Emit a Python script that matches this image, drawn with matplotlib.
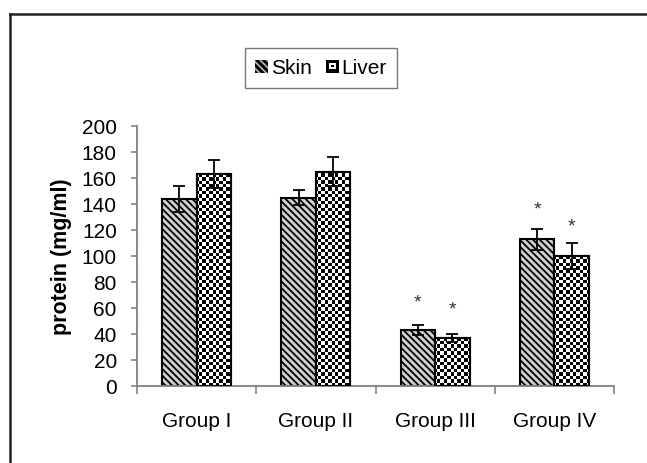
import numpy as np
import matplotlib
matplotlib.use('Agg')
import matplotlib.pyplot as plt
from matplotlib.patches import Rectangle
from matplotlib.lines import Line2D
from matplotlib.legend_handler import HandlerBase

plt.rcParams['font.family'] = ['Liberation Sans', 'DejaVu Sans']
plt.rcParams['hatch.linewidth'] = 1.3

groups = ['Group I', 'Group II', 'Group III', 'Group IV']
skin = [144, 145, 43, 113]
skin_err = [10, 6, 4, 8]
liver = [163, 165, 37, 100]
liver_err = [11, 11, 3, 10]
# asterisk heights (nan = no mark)
skin_star = [np.nan, np.nan, 65, 136]
liver_star = [np.nan, np.nan, 59, 123]
yticks = list(range(0, 201, 20))


class SkinHandler(HandlerBase):
    def create_artists(self, legend, orig, xd, yd, w, h, fs, trans):
        s = h
        r = Rectangle((-xd + (w - s) / 2, -yd), s, s, facecolor='black',
                      edgecolor='#b0b0b0', hatch='\\\\\\\\\\', lw=0, transform=trans)
        return [r]


class CheckerHandler(HandlerBase):
    def create_artists(self, legend, orig, xd, yd, w, h, fs, trans):
        s = h
        x0 = -xd + (w - s) / 2
        y0 = -yd
        arts = [Rectangle((x0, y0), s, s, facecolor='black', lw=0, transform=trans)]
        c = s / 4
        arts.append(Rectangle((x0 + c, y0 + c), 2 * c, 2 * c, facecolor='white', lw=0, transform=trans))
        arts.append(Rectangle((x0 + 1.6 * c, y0 + 1.6 * c), 0.8 * c, 0.8 * c, facecolor='black', lw=0, transform=trans))
        return arts


fig = plt.figure(figsize=(6.47, 4.64), dpi=100)
ax = fig.add_axes([137 / 647, 1 - 387 / 464, 477 / 647, 260 / 464])

x = np.arange(len(groups))
w = 0.29
ebar = dict(ecolor='black', elinewidth=1.3, capsize=4, capthick=1.3)

b1 = ax.bar(x - w / 2, skin, w, yerr=skin_err, facecolor='#d0d0d0', edgecolor='black',
            hatch='\\\\\\\\\\', lw=1.5, error_kw=ebar, zorder=2)
b2 = ax.bar(x + w / 2, liver, w, facecolor='white', edgecolor='black', lw=1.5, zorder=2)

# checkerboard fill for liver bars
cell = 3.4
nx = int(round(477 / cell))
ny = int(round(260 / cell))
checker = (np.add.outer(np.arange(ny), np.arange(nx)) % 2).astype(float)
for rect in b2:
    im = ax.imshow(checker, extent=(-0.5, 3.5, 0, 200), cmap='gray', vmin=0, vmax=1,
                   interpolation='nearest', aspect='auto', zorder=2.2)
    im.set_clip_path(rect)
ax.bar(x + w / 2, liver, w, fill=False, edgecolor='black', lw=1.5, zorder=3)
ax.errorbar(x + w / 2, liver, yerr=liver_err, fmt='none', zorder=4, **ebar)

for xi, s1, s2 in zip(x, skin_star, liver_star):
    if not np.isnan(s1):
        ax.text(xi - w / 2, s1, '*', ha='center', va='center', fontsize=14, color='#333333')
    if not np.isnan(s2):
        ax.text(xi + w / 2, s2, '*', ha='center', va='center', fontsize=14, color='#333333')

ax.set_xlim(-0.5, 3.5)
ax.set_ylim(0, 200)
ax.set_yticks(yticks)
ax.set_xticks(x)
ax.set_xticklabels(groups)
ax.set_xticks(np.arange(-0.5, 3.6, 1), minor=True)
ax.tick_params(axis='x', which='major', length=0, pad=18, labelsize=15)
ax.tick_params(axis='x', which='minor', length=6, width=1.2, color='#808080')
ax.tick_params(axis='y', length=4.5, width=1.2, color='#808080', pad=10, labelsize=15)

for side in ['top', 'right']:
    ax.spines[side].set_visible(False)
for side in ['left', 'bottom']:
    ax.spines[side].set_color('#808080')
    ax.spines[side].set_linewidth(1.3)

ax.set_ylabel('protein (mg/ml)', fontsize=15.5, fontweight='bold')
ax.yaxis.set_label_coords(-0.136, 0.5)

h1 = Rectangle((0, 0), 1, 1)
h2 = Rectangle((0, 0), 1, 1)
leg = fig.legend([h1, h2], ['Skin', 'Liver'], loc='center',
                 bbox_to_anchor=(321 / 647, 1 - 69 / 464), ncol=2, fontsize=15,
                 handler_map={h1: SkinHandler(), h2: CheckerHandler()},
                 handlelength=0.6, handleheight=0.6, handletextpad=0.15,
                 columnspacing=0.7, borderpad=0.5, borderaxespad=0,
                 fancybox=False, frameon=True)
leg.get_frame().set_edgecolor('#555555')
leg.get_frame().set_linewidth(1.0)

# outer frame (left and top edges)
fig.add_artist(Line2D([10 / 647, 10 / 647], [0, 1 - 14.5 / 464], color='#222222', lw=1.8))
fig.add_artist(Line2D([10 / 647, 1], [1 - 14.5 / 464, 1 - 14.5 / 464], color='#222222', lw=1.8))

fig.savefig('out.png', dpi=100)
